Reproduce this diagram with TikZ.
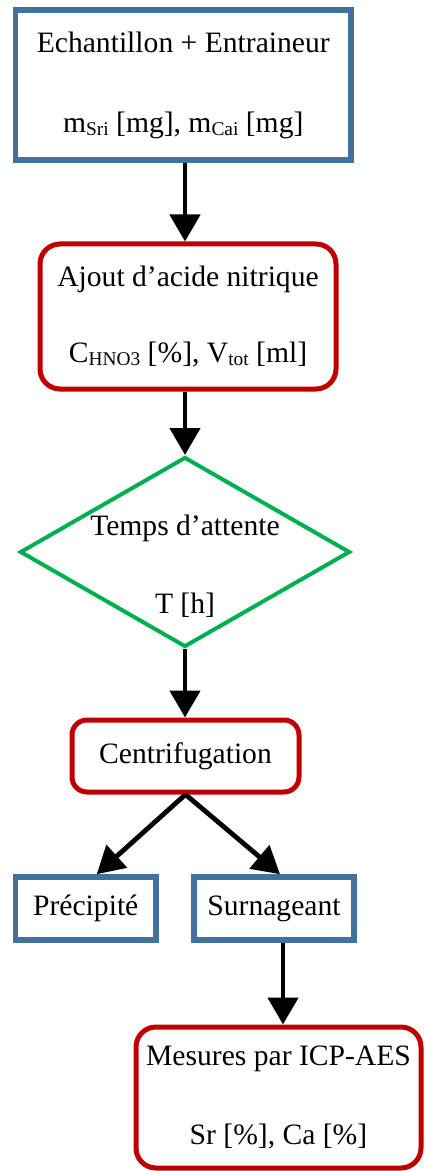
\documentclass[tikz,border=0pt]{standalone}
\usepackage{fontspec}
\setmainfont{Liberation Serif}
\usetikzlibrary{positioning, arrows.meta, shapes.geometric}
\definecolor{boxblue}{HTML}{41719C}
\definecolor{boxred}{HTML}{C00000}
\definecolor{diagreen}{HTML}{00B050}
\newcommand{\subtxt}[1]{\raisebox{-1.5pt}{\fontsize{9.7}{10}\selectfont #1}}

\begin{document}
\begin{tikzpicture}[x=0.5pt, y=-0.5pt,
  txt/.style={font=\fontsize{14.8}{17}\selectfont, align=center, inner sep=0pt},
  bluebox/.style={txt, draw=boxblue, line width=2.8pt},
  redbox/.style={txt, draw=boxred, line width=2.5pt, rounded corners=10pt},
  greendia/.style={diamond, draw=diagreen, line width=2pt, inner sep=0pt},
  arr/.style={-{Triangle[length=13.5pt, width=15pt]}, line width=2.4pt},
]
\useasboundingbox (0,0) rectangle (424,1171);

% === Sample preparation ===
\node[bluebox, minimum width=167.75pt, minimum height=75pt] (sample) at (183.25,85)
     {Echantillon + Entraineur\\[23pt] m\subtxt{Sri} [mg], m\subtxt{Cai} [mg]};

\node[redbox, minimum width=148pt, minimum height=72.5pt] (acid) at (188,316.5)
     {Ajout d’acide nitrique\\[21pt] C\subtxt{HNO3} [\%], V\subtxt{tot} [ml]};

% === Waiting time (diamond) ===
\node[greendia, minimum width=165pt, minimum height=95pt] (wait) at (185,552) {};
\node[txt, yshift=-7pt] (waitlbl) at (wait.center) {Temps d’attente\\[22pt] T [h]};

% === Separation ===
\node[redbox, rounded corners=7.5pt, minimum width=113.5pt, minimum height=36pt] (centri) at (185.5,756)
     {Centrifugation};
\node[bluebox, minimum width=70.25pt, minimum height=31.5pt] (precip) at (85.75,908.5) {Précipité};
\node[bluebox, minimum width=80pt, minimum height=31.5pt] (surn) at (274,908.5) {Surnageant};

% === Measurement ===
\node[redbox, minimum width=142.5pt, minimum height=70.5pt] (icp) at (278.5,1097.5)
     {Mesures par ICP-AES\\[22.5pt] Sr [\%], Ca [\%]};

% === Arrows ===
\draw[arr] (wait.north |- sample.south) -- (wait.north |- acid.north);
\draw[arr] (wait.north |- acid.south) -- (wait.north);
\draw[arr] (wait.south) -- (wait.south |- centri.north);
\draw[arr] (centri.south) -- ([xshift=5.5pt]precip.north);
\draw[arr] (centri.south) -- ([xshift=3pt]surn.north);
\coordinate (surnout) at ([xshift=4.5pt]surn.south);
\draw[arr] (surnout) -- (surnout |- icp.north);

\end{tikzpicture}
\end{document}
